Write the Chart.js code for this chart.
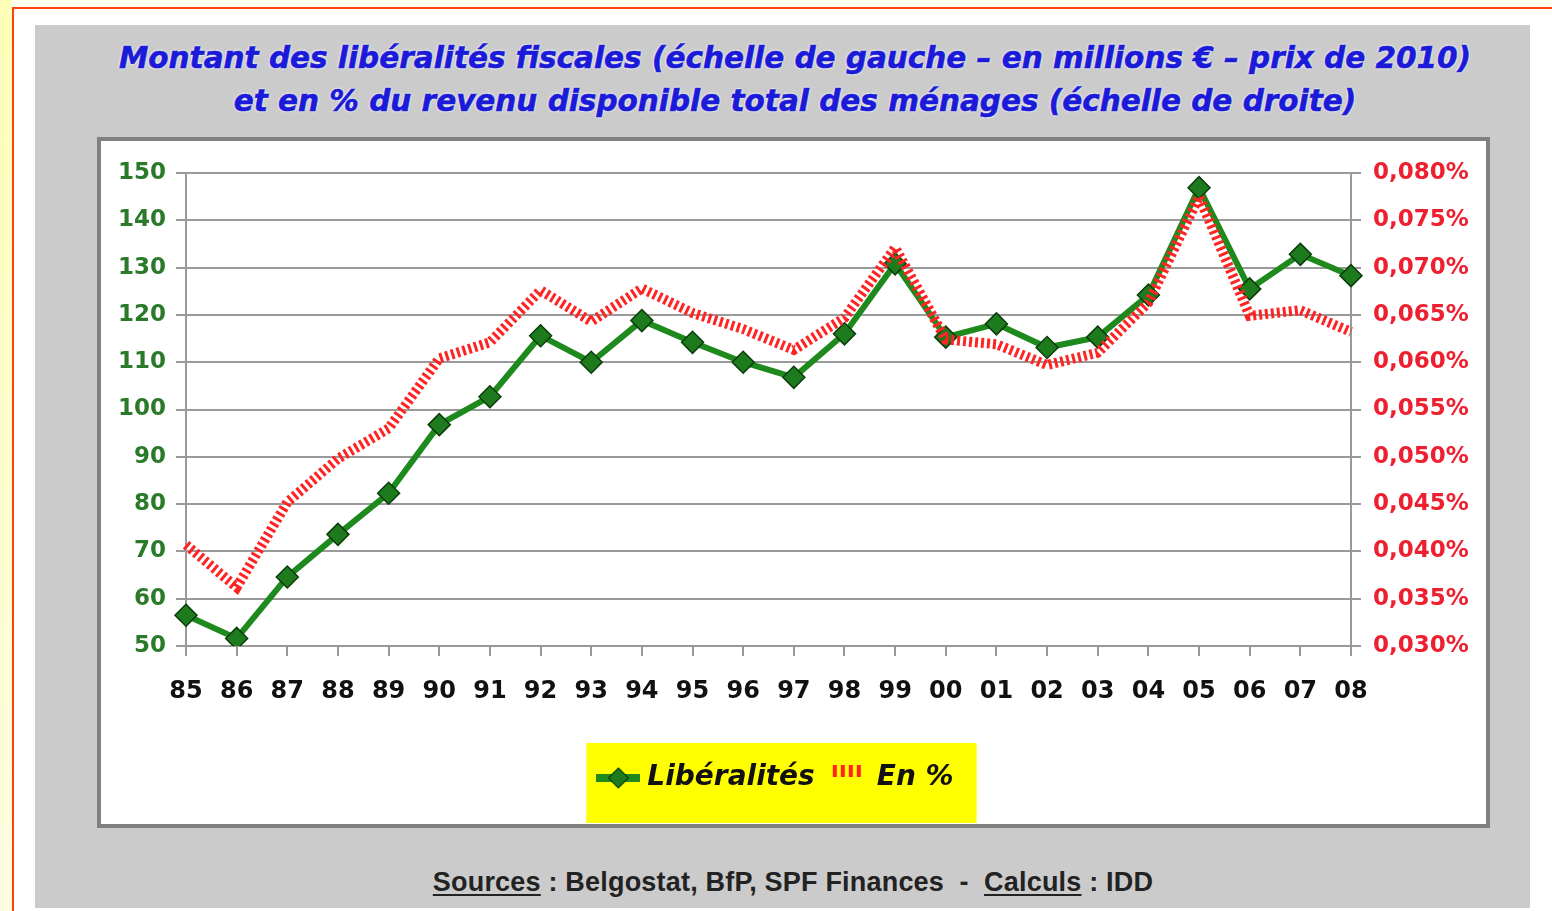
<!DOCTYPE html>
<html>
<head>
<meta charset="utf-8">
<script src="https://cdn.jsdelivr.net/npm/chart.js@4.4.0/dist/chart.umd.min.js"></script>
<style>
  body { margin: 0; width: 1552px; height: 911px; background: #fff; position: relative; overflow: hidden; }
  .strip-left { position: absolute; left: 0; top: 0; width: 12px; height: 911px; background: linear-gradient(#ffffb8, #fffde0); }
  .strip-top { position: absolute; left: 0; top: 0; width: 1552px; height: 7px; background: #fffff0; }
  .frame { position: absolute; left: 12px; top: 7px; width: 1540px; height: 904px; border-left: 2px solid #ff4010; border-top: 2px solid #ff4010; }
  .panel { position: absolute; left: 35px; top: 25px; width: 1495px; height: 883px; background: #cbcbcb; }
  .title { position: absolute; left: 35px; top: 37px; width: 1520px; text-align: center; font-family: "DejaVu Sans", sans-serif; font-weight: bold; font-style: italic; font-size: 29.5px; line-height: 43px; color: #1a1ad8; -webkit-text-stroke: 0.6px #1a1ad8; text-shadow: 0 0 3px #fff, 0 0 2px #fff; }
  .box { position: absolute; left: 97px; top: 137px; width: 1393px; height: 691px; box-sizing: border-box; border: 4px solid #808080; background: #fff; }
  .box canvas { position: absolute; left: 0; top: 0; }
  .sources { position: absolute; left: 35px; top: 867px; width: 1516px; text-align: center; font-family: "Liberation Sans", Arial, sans-serif; font-weight: bold; font-size: 27px; letter-spacing: 0.2px; color: #222; }
  .sources u { text-underline-offset: 3px; }
</style>
</head>
<body>
<div class="strip-top"></div>
<div class="strip-left"></div>
<div class="frame"></div>
<div class="panel"></div>
<div class="title">Montant des libéralités fiscales (échelle de gauche – en millions € – prix de 2010)<br>et en % du revenu disponible total des ménages (échelle de droite)</div>
<div class="box"><canvas id="chart" width="1385" height="683"></canvas></div>
<div class="sources"><u>Sources</u> : Belgostat, BfP, SPF Finances &nbsp;- &nbsp;<u>Calculs</u> : IDD</div>
<script>
const years = ['85', '86', '87', '88', '89', '90', '91', '92', '93', '94', '95', '96',
               '97', '98', '99', '00', '01', '02', '03', '04', '05', '06', '07', '08'];
// millions € (prix de 2010), left scale
const liberalites = [56.5, 51.6, 64.6, 73.6, 82.3, 96.8, 102.7, 115.6, 110, 118.8, 114.2, 110,
                     106.8, 116, 130.8, 115.3, 118.1, 113.1, 115.3, 124.2, 146.9, 125.5, 132.8, 128.3];
// % du revenu disponible, right scale
const enPourcent = [0.0407, 0.0362, 0.0452, 0.0498, 0.0530, 0.0604, 0.0621, 0.0676, 0.0643, 0.0678, 0.0652, 0.0635,
                    0.0613, 0.0647, 0.0721, 0.0624, 0.0619, 0.0597, 0.0610, 0.0663, 0.0775, 0.0649, 0.0655, 0.0632];

const green = '#1e8a1e';
const red = '#ff2424';

// small legend icons
function makeGreenIcon() {
    let c = document.createElement('canvas');
    c.width = 44; c.height = 22;
    let g = c.getContext('2d');
    g.fillStyle = green;
    g.fillRect(0, 7, 44, 8);
    g.beginPath();
    g.moveTo(22, 1); g.lineTo(32, 11); g.lineTo(22, 21); g.lineTo(12, 11); g.closePath();
    g.fillStyle = '#1d7a1d'; g.fill();
    g.strokeStyle = '#0b3d0b'; g.lineWidth = 1.2; g.stroke();
    return c;
}
function makeRedIcon() {
    let c = document.createElement('canvas');
    c.width = 34; c.height = 30;
    let g = c.getContext('2d');
    g.fillStyle = red;
    for (let i = 0; i < 4; i++) {
        g.fillRect(2 + i * 8, 2, 4, 12);
    }
    return c;
}
const greenIcon = makeGreenIcon();
const redIcon = makeRedIcon();

// legend sits a bit left of centre in the original, on a yellow box
const legendBackground = {
    id: 'legendBackground',
    afterLayout(chart) {
        let lg = chart.legend;
        if (!lg) return;
        lg.left -= 15;
        lg.right -= 15;
    },
    beforeDraw(chart) {
        let lg = chart.legend;
        if (!lg || !lg.legendHitBoxes || !lg.legendHitBoxes.length) return;
        let boxes = lg.legendHitBoxes;
        let left = Math.min(...boxes.map(b => b.left));
        let right = Math.max(...boxes.map(b => b.left + b.width));
        let cy = boxes[0].top + boxes[0].height / 2;
        let ctx = chart.ctx;
        ctx.save();
        ctx.fillStyle = '#ffff00';
        ctx.fillRect(left - 17, cy - 35, right - left + 40, 80);
        ctx.restore();
    }
};

const tickFont = { family: 'DejaVu Sans', size: 23, weight: 'bold' };

const ctx = document.getElementById('chart');
const chart = new Chart(ctx, {
    type: 'line',
    data: {
        labels: years,
        datasets: [
            {
                label: 'Libéralités',
                data: liberalites,
                yAxisID: 'y',
                borderColor: green,
                borderWidth: 6,
                pointStyle: 'rectRot',
                pointRadius: 11,
                pointBackgroundColor: '#1d7a1d',
                pointBorderColor: '#0b3d0b',
                pointBorderWidth: 1.5,
                tension: 0,
                order: 1
            },
            {
                label: 'En %',
                data: enPourcent,
                yAxisID: 'y1',
                borderColor: red,
                borderWidth: 10,
                borderDash: [3, 3],
                pointRadius: 0,
                tension: 0,
                order: 0
            }
        ]
    },
    options: {
        responsive: false,
        animation: false,
        layout: { padding: { top: 32, bottom: 22, left: 0, right: 0 } },
        scales: {
            x: {
                offset: false,
                grid: { drawOnChartArea: false, drawTicks: true, tickLength: 10, color: '#999', lineWidth: 2 },
                border: { display: true, color: '#999', width: 2 },
                ticks: {
                    color: '#111', padding: 21, maxRotation: 0, autoSkip: false,
                    font: { family: 'DejaVu Sans', size: 24, weight: 'bold' }
                },
                afterFit(s) { s.height = 100; }
            },
            y: {
                position: 'left',
                min: 50, max: 150,
                ticks: {
                    stepSize: 10, color: '#2a7a2a', padding: 10,
                    font: tickFont
                },
                grid: { color: '#9a9a9a', lineWidth: 2, tickLength: 10 },
                border: { display: true, color: '#999', width: 2 },
                afterFit(s) { s.width = 85; }
            },
            y1: {
                position: 'right',
                min: 0.03, max: 0.08,
                ticks: {
                    stepSize: 0.005, color: '#ee2030', padding: 12,
                    font: tickFont,
                    callback: v => v.toFixed(3).replace('.', ',') + '%'
                },
                grid: { drawOnChartArea: false, color: '#9a9a9a', lineWidth: 2, tickLength: 10 },
                border: { display: true, color: '#999', width: 2 },
                afterFit(s) { s.width = 135; }
            }
        },
        plugins: {
            tooltip: { enabled: false },
            legend: {
                position: 'bottom',
                labels: {
                    usePointStyle: true,
                    pointStyleWidth: 30,
                    padding: 18,
                    color: '#111',
                    font: { family: 'DejaVu Sans', size: 28, weight: 'bold', style: 'italic' },
                    sort: (a, b) => a.datasetIndex - b.datasetIndex,
                    generateLabels(chart) {
                        let items = Chart.defaults.plugins.legend.labels.generateLabels(chart);
                        items.forEach(it => {
                            it.pointStyle = it.datasetIndex === 0 ? greenIcon : redIcon;
                        });
                        return items;
                    }
                }
            }
        }
    },
    plugins: [legendBackground]
});
</script>
</body>
</html>
